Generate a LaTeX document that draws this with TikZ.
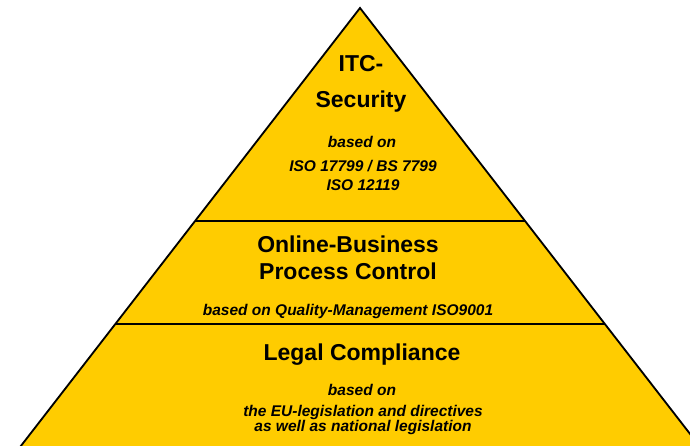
\documentclass[tikz,border=0pt]{standalone}
\usepackage{fontspec}
\setmainfont{Liberation Sans}
\usetikzlibrary{calc}
\definecolor{tieryellow}{RGB}{255,204,0}

\begin{document}
\begin{tikzpicture}[x=0.6pt,y=-0.6pt,
                    title node/.style={font=\fontsize{13.8}{16.2}\selectfont\bfseries,align=center,inner sep=0pt},
                    note node/.style={font=\fontsize{9.3}{11.4}\selectfont\bfseries\itshape,align=center,inner sep=0pt}]
                \useasboundingbox (0,0) rectangle (690,446);
                \clip (0,0) rectangle (690,446);
                % pyramid outline (base runs off the page) and the two tier borders
                \coordinate (apex) at (360,8);
                \coordinate (bl) at (2.3,470);
                \coordinate (br) at (718,470);
                \coordinate (l1) at ($(apex)!0.461!(bl)$);
                \coordinate (r1) at ($(apex)!0.461!(br)$);
                \coordinate (l2) at ($(apex)!0.684!(bl)$);
                \coordinate (r2) at ($(apex)!0.684!(br)$);
                \filldraw[fill=tieryellow,line width=1.1pt] (apex) -- (bl) -- (br) -- cycle;
                \draw[line width=1.3pt] (l1) -- (r1);
                \draw[line width=1.3pt] (l2) -- (r2);
                % top tier
                \node[title node,font=\fontsize{13.8}{21.6}\selectfont\bfseries] (itc) at (361,84) {ITC-\\Security};
                \node[note node] (itcbase) at (362,142) {based on};
                \node[note node] (itciso) at (363,175.5) {ISO 17799 / BS 7799\\ISO 12119};
                % middle tier
                \node[title node] (online) at (348,257.5) {Online-Business\\Process Control};
                \node[note node] (onlinebase) at (348,311) {based on Quality-Management ISO9001};
                % bottom tier
                \node[title node] (legal) at (362,355) {Legal Compliance};
                \node[note node] (legalbase) at (362,390) {based on};
                \node[note node,font=\fontsize{9.3}{9}\selectfont\bfseries\itshape] (legaleu) at (363,419.5)
                    {the EU-legislation and directives\\as well as national legislation};
\end{tikzpicture}
\end{document}
